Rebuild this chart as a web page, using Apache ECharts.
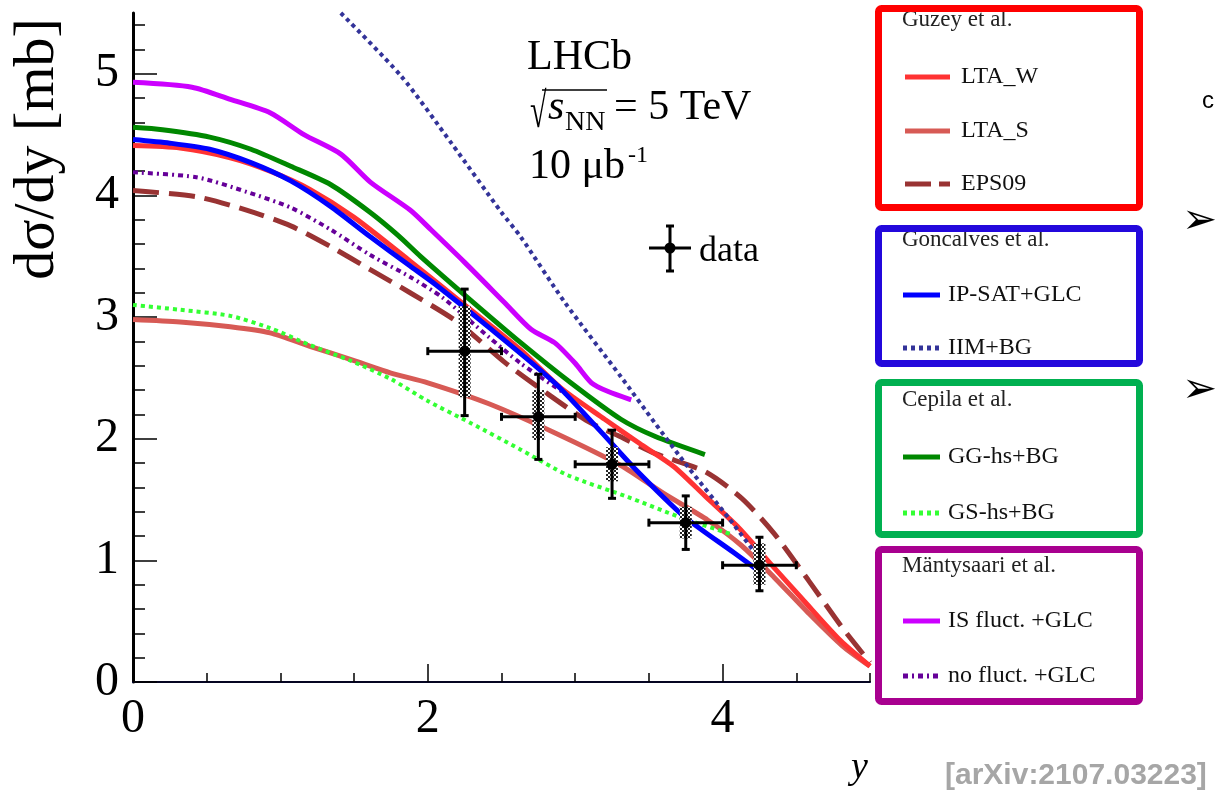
<!DOCTYPE html>
<html>
<head>
<meta charset="utf-8">
<script src="https://cdn.jsdelivr.net/npm/echarts@6/dist/echarts.min.js"></script>
<style>
  html, body { margin: 0; padding: 0; background: #fff; }
  #chart { width: 1215px; height: 800px; }
</style>
</head>
<body>
<div id="chart"></div>
<script>
// axis ticks
var xMajorTicks = [0, 2, 4];
var xMinorTicks = [0.5, 1, 1.5, 2.5, 3, 3.5, 4.5, 5];
var yMajorTicks = [0, 1, 2, 3, 4, 5];
var yMinorTicks = [0.2, 0.4, 0.6, 0.8, 1.2, 1.4, 1.6, 1.8, 2.2, 2.4, 2.6, 2.8,
                   3.2, 3.4, 3.6, 3.8, 4.2, 4.4, 4.6, 4.8, 5.2, 5.4];

// LHCb data points
var dataRap   = [2.25, 2.75, 3.25, 3.75, 4.25];
var dataXsec  = [2.72, 2.18, 1.79, 1.31, 0.96];
var binHalf   = [0.25, 0.25, 0.25, 0.25, 0.25];
var statLow   = [2.19, 1.83, 1.51, 1.09, 0.75];
var statHigh  = [3.23, 2.53, 2.07, 1.53, 1.19];
var systLow   = [2.34, 1.99, 1.65, 1.18, 0.80];
var systHigh  = [3.09, 2.40, 1.93, 1.44, 1.14];

// model curves  [y, dsigma/dy]
var ltaW = [[0,4.41],[0.32,4.39],[0.66,4.31],[0.93,4.20],[1.2,4.05],[1.5,3.82],[1.88,3.46],
            [2.25,3.1],[2.63,2.73],[2.9,2.42],[3.2,2.16],[3.45,1.95],[3.67,1.77],[3.88,1.53],
            [4.1,1.28],[4.32,0.98],[4.55,0.67],[4.8,0.34],[5.0,0.13]];
var ltaS = [[0,2.98],[0.32,2.96],[0.66,2.92],[0.93,2.87],[1.2,2.76],[1.48,2.65],[1.75,2.54],
            [2.0,2.46],[2.41,2.29],[2.86,2.05],[3.31,1.78],[3.6,1.55],[3.9,1.33],[4.13,1.12],
            [4.35,0.86],[4.58,0.57],[4.81,0.30],[5.0,0.13]];
var eps09 = [[0,4.04],[0.43,3.99],[0.77,3.88],[1.07,3.75],[1.34,3.58],[1.61,3.39],[1.88,3.20],
             [2.2,2.96],[2.52,2.63],[2.8,2.38],[3.09,2.14],[3.3,2.02],[3.54,1.88],[3.88,1.73],
             [4.13,1.51],[4.35,1.22],[4.58,0.84],[4.81,0.45],[5.0,0.16]];
var ipSat = [[0,4.46],[0.25,4.43],[0.52,4.38],[0.8,4.27],[1.07,4.12],[1.34,3.91],[1.61,3.66],
             [1.88,3.42],[2.05,3.27],[2.41,2.92],[2.86,2.46],[3.18,2.05],[3.40,1.76],[3.74,1.36],
             [4.08,1.06],[4.27,0.89]];
var iimBg = [[1.41,5.50],[1.82,4.98],[2.16,4.43],[2.5,3.86],[2.63,3.66],[2.93,3.12],[3.31,2.51],
             [3.54,2.13],[3.77,1.76],[4.04,1.35],[4.24,1.03]];
var ggHs = [[0,4.56],[0.2,4.54],[0.52,4.48],[0.8,4.38],[1.07,4.24],[1.34,4.09],[1.61,3.86],
            [1.8,3.67],[1.95,3.50],[2.29,3.14],[2.63,2.79],[2.97,2.46],[3.31,2.16],[3.54,2.02],
            [3.88,1.87]];
var gsHs = [[0,3.10],[0.32,3.06],[0.66,3.01],[0.93,2.91],[1.2,2.77],[1.48,2.64],[1.75,2.49],
            [2.0,2.31],[2.29,2.13],[2.63,1.91],[2.95,1.70],[3.36,1.52],[3.7,1.36],[4.07,1.21]];
var isFluct = [[0,4.93],[0.4,4.89],[0.66,4.79],[0.93,4.68],[1.16,4.50],[1.41,4.34],[1.61,4.11],
               [1.88,3.88],[2.02,3.72],[2.25,3.45],[2.52,3.12],[2.70,2.90],[2.86,2.79],[3.0,2.62],
               [3.11,2.46],[3.22,2.39],[3.38,2.32]];
var noFluct = [[0,4.19],[0.43,4.15],[0.77,4.03],[1.07,3.90],[1.34,3.72],[1.61,3.51],[1.88,3.33],
               [2.1,3.16],[2.41,2.84],[2.63,2.62],[2.97,2.34]];

var serif = 'Liberation Serif, Times New Roman, serif';

// checkered fill for the systematic boxes
var hc = document.createElement('canvas');
hc.width = 4; hc.height = 4;
var hg = hc.getContext('2d');
hg.fillStyle = '#fff'; hg.fillRect(0, 0, 4, 4);
hg.fillStyle = '#222'; hg.fillRect(0, 0, 2, 2); hg.fillRect(2, 2, 2, 2);
var hatch = { image: hc, repeat: 'repeat' };

var errData = dataRap.map(function (x, i) {
  return [x, dataXsec[i], binHalf[i], statLow[i], statHigh[i], systLow[i], systHigh[i]];
});

function renderErr(params, api) {
  var x = api.value(0), y = api.value(1), xe = api.value(2);
  var c = api.coord([x, y]);
  var l = api.coord([x - xe, y]), r = api.coord([x + xe, y]);
  var t = api.coord([x, api.value(4)]), b = api.coord([x, api.value(3)]);
  var st = api.coord([x, api.value(6)]), sb = api.coord([x, api.value(5)]);
  var ls = { stroke: '#000', lineWidth: 3 };
  return {
    type: 'group',
    children: [
      { type: 'rect', shape: { x: c[0] - 6, y: st[1], width: 12, height: sb[1] - st[1] }, style: { fill: hatch } },
      { type: 'line', shape: { x1: l[0], y1: l[1], x2: r[0], y2: r[1] }, style: ls },
      { type: 'line', shape: { x1: t[0], y1: t[1], x2: b[0], y2: b[1] }, style: ls },
      { type: 'line', shape: { x1: l[0], y1: l[1] - 4, x2: l[0], y2: l[1] + 4 }, style: ls },
      { type: 'line', shape: { x1: r[0], y1: r[1] - 4, x2: r[0], y2: r[1] + 4 }, style: ls },
      { type: 'line', shape: { x1: t[0] - 4, y1: t[1], x2: t[0] + 4, y2: t[1] }, style: ls },
      { type: 'line', shape: { x1: b[0] - 4, y1: b[1], x2: b[0] + 4, y2: b[1] }, style: ls },
      { type: 'circle', shape: { cx: c[0], cy: c[1], r: 5.5 }, style: { fill: '#000' } }
    ]
  };
}

function curve(name, data, color, width, type) {
  return {
    name: name, type: 'line', data: data, showSymbol: false, smooth: 0.25,
    lineStyle: { color: color, width: width, type: type || 'solid' },
    clip: true, z: 2
  };
}

// legend boxes (graphic)
var boxes = [
  { title: 'Guzey et al.', color: '#ff0000', y0: 5, y1: 211, titleY: 22, sx: 905, sw: 45, tx: 961,
    items: [['LTA_W', '#ff3333', 'solid', 77], ['LTA_S', '#d75a55', 'solid', 131], ['EPS09', '#993333', [26, 8], 184]] },
  { title: 'Goncalves et al.', color: '#2308dc', y0: 225, y1: 367, titleY: 242, sx: 903, sw: 37, tx: 948,
    items: [['IP-SAT+GLC', '#0000ff', 'solid', 295], ['IIM+BG', '#333399', [4, 4], 348]] },
  { title: 'Cepila et al.', color: '#00b050', y0: 379, y1: 538, titleY: 402, sx: 903, sw: 37, tx: 948,
    items: [['GG-hs+BG', '#008800', 'solid', 457], ['GS-hs+BG', '#33ff33', [4, 4], 513]] },
  { title: 'Mäntysaari et al.', color: '#a8008f', y0: 546, y1: 705, titleY: 568, sx: 903, sw: 37, tx: 948,
    items: [['IS fluct. +GLC', '#cc00ff', 'solid', 621], ['no fluct. +GLC', '#660099', [5, 4, 2, 4], 676]] }
];

var graphics = [];
boxes.forEach(function (bx) {
  graphics.push({ type: 'text', left: 902, top: bx.titleY - 14, z: 10,
    style: { text: bx.title, font: '23px ' + serif, fill: '#222' } });
  bx.items.forEach(function (it) {
    graphics.push({ type: 'line', z: 10, shape: { x1: bx.sx, y1: it[3], x2: bx.sx + bx.sw, y2: it[3] },
      style: { stroke: it[1], lineWidth: 5, lineDash: it[2] === 'solid' ? null : it[2] } });
    graphics.push({ type: 'text', x: bx.tx, y: it[3], z: 10,
      style: { text: it[0], font: '24px ' + serif, fill: '#111', textVerticalAlign: 'middle' } });
  });
  graphics.push({ type: 'rect', z: 11,
    shape: { x: 878.5, y: bx.y0 + 3.5, width: 261, height: bx.y1 - bx.y0 - 7, r: 3 },
    style: { fill: 'none', stroke: bx.color, lineWidth: 7 } });
});

// text annotations
graphics.push(
  { type: 'text', x: 527, y: 58, style: { text: 'LHCb', font: '42px ' + serif, fill: '#000', textVerticalAlign: 'middle' } },
  { type: 'text', x: 530, y: 114, scaleY: 1.65,
    style: { text: '√', font: '30px ' + serif, fill: '#000', textVerticalAlign: 'middle' } },
  { type: 'line', shape: { x1: 542, y1: 90, x2: 607, y2: 90 }, style: { stroke: '#000', lineWidth: 1.5 } },
  { type: 'text', x: 548, y: 108, style: { text: 's', font: 'italic 42px ' + serif, fill: '#000', textVerticalAlign: 'middle' } },
  { type: 'text', x: 565, y: 123, style: { text: 'NN', font: '28px ' + serif, fill: '#000', textVerticalAlign: 'middle' } },
  { type: 'text', x: 614, y: 108, style: { text: '= 5 TeV', font: '42px ' + serif, fill: '#000', textVerticalAlign: 'middle' } },
  { type: 'text', x: 529, y: 167, style: { text: '10 μb', font: '42px ' + serif, fill: '#000', textVerticalAlign: 'middle' } },
  { type: 'text', x: 628, y: 156, style: { text: '-1', font: '24px ' + serif, fill: '#000', textVerticalAlign: 'middle' } },
  // data legend marker
  { type: 'line', shape: { x1: 649, y1: 248, x2: 691, y2: 248 }, style: { stroke: '#000', lineWidth: 3 } },
  { type: 'line', shape: { x1: 670, y1: 226, x2: 670, y2: 271 }, style: { stroke: '#000', lineWidth: 3 } },
  { type: 'line', shape: { x1: 666, y1: 226, x2: 674, y2: 226 }, style: { stroke: '#000', lineWidth: 3 } },
  { type: 'line', shape: { x1: 666, y1: 271, x2: 674, y2: 271 }, style: { stroke: '#000', lineWidth: 3 } },
  { type: 'circle', shape: { cx: 670, cy: 248, r: 5.5 }, style: { fill: '#000' } },
  { type: 'text', x: 699, y: 252, style: { text: 'data', font: '36px ' + serif, fill: '#000', textVerticalAlign: 'middle' } },
  // axis titles
  { type: 'text', x: 38, y: 149, rotation: Math.PI / 2,
    style: { text: 'dσ/dy [mb]', font: '58px ' + serif, fill: '#000', textAlign: 'center', textVerticalAlign: 'middle' } },
  { type: 'text', x: 851, y: 768, style: { text: 'y', font: 'italic 38px ' + serif, fill: '#000', textVerticalAlign: 'middle' } },
  { type: 'text', x: 945, y: 776, style: { text: '[arXiv:2107.03223]', font: 'bold 30px Liberation Sans, Arial, sans-serif', fill: '#a6a6a6', textVerticalAlign: 'middle' } },
  // slide fragments at the right edge
  { type: 'text', x: 1202, y: 101, style: { text: 'c', font: '24px Liberation Sans, Arial, sans-serif', fill: '#000', textVerticalAlign: 'middle' } },
  { type: 'text', x: 1182, y: 222, style: { text: '➢', font: '42px DejaVu Sans', fill: '#000', textVerticalAlign: 'middle' } },
  { type: 'text', x: 1182, y: 391, style: { text: '➢', font: '42px DejaVu Sans', fill: '#000', textVerticalAlign: 'middle' } }
);

var chart = echarts.init(document.getElementById('chart'), null, { renderer: 'canvas' });

var axisFont = { fontSize: 48, fontFamily: serif, color: '#000' };

chart.setOption({
  animation: false,
  backgroundColor: '#fff',
  grid: { left: 133, right: 345, top: 13, bottom: 118 },
  xAxis: [
    { type: 'value', min: 0, max: 5, position: 'bottom',
      axisLine: { show: true, onZero: false, lineStyle: { color: '#14148a', width: 2 } },
      axisTick: { show: true, inside: true, length: 9, customValues: xMinorTicks, lineStyle: { color: '#000', width: 1.5 } },
      axisLabel: { show: false }, splitLine: { show: false } },
    { type: 'value', min: 0, max: 5, position: 'bottom',
      axisLine: { show: false },
      axisTick: { show: true, inside: true, length: 18, customValues: xMajorTicks, lineStyle: { color: '#000', width: 1.5 } },
      axisLabel: Object.assign({ show: true, margin: 13, customValues: xMajorTicks }, axisFont),
      splitLine: { show: false } },
    { type: 'value', min: 0, max: 5, position: 'top',
      axisLine: { show: true, lineStyle: { color: '#000', width: 1.5 } },
      axisTick: { show: false }, axisLabel: { show: false }, splitLine: { show: false } }
  ],
  yAxis: [
    { type: 'value', min: 0, max: 5.5, position: 'left',
      axisLine: { show: true, onZero: false, lineStyle: { color: '#000', width: 3 } },
      axisTick: { show: true, inside: true, length: 12, customValues: yMinorTicks, lineStyle: { color: '#000', width: 1.5 } },
      axisLabel: { show: false }, splitLine: { show: false } },
    { type: 'value', min: 0, max: 5.5, position: 'left',
      axisLine: { show: false },
      axisTick: { show: true, inside: true, length: 24, customValues: yMajorTicks, lineStyle: { color: '#000', width: 1.5 } },
      axisLabel: Object.assign({ show: true, margin: 14, customValues: yMajorTicks }, axisFont),
      splitLine: { show: false } },
    { type: 'value', min: 0, max: 5.5, position: 'right',
      axisLine: { show: true, lineStyle: { color: '#000', width: 1.5 } },
      axisTick: { show: false }, axisLabel: { show: false }, splitLine: { show: false } }
  ],
  graphic: graphics,
  series: [
    curve('LTA_S', ltaS, '#d75a55', 5),
    curve('GS-hs+BG', gsHs, '#33ff33', 4, [4, 4]),
    curve('EPS09', eps09, '#993333', 5, [26, 10]),
    curve('no fluct. +GLC', noFluct, '#660099', 4, [5, 4, 2, 4]),
    curve('LTA_W', ltaW, '#ff3333', 5),
    curve('IP-SAT+GLC', ipSat, '#0000ff', 5),
    curve('GG-hs+BG', ggHs, '#008800', 5),
    curve('IS fluct. +GLC', isFluct, '#cc00ff', 5),
    curve('IIM+BG', iimBg, '#333399', 4, [4, 4]),
    { name: 'data', type: 'custom', renderItem: renderErr, data: errData,
      encode: { x: 0, y: 1 }, z: 5 }
  ]
});
</script>
</body>
</html>
